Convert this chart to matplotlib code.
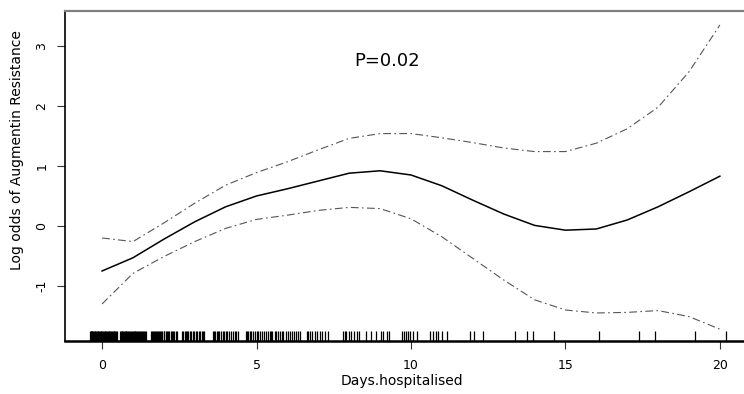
import numpy as np
import matplotlib
matplotlib.use("Agg")
import matplotlib.pyplot as plt
import matplotlib.transforms as mtransforms

# GAM fit of log odds of Augmentin resistance vs days hospitalised
days = list(range(0, 21))
fit = [-0.75, -0.53, -0.22, 0.07, 0.32, 0.50, 0.62, 0.75, 0.88, 0.92, 0.85,
       0.67, 0.43, 0.20, 0.01, -0.07, -0.05, 0.10, 0.32, 0.57, 0.83]
upper = [-0.20, -0.26, 0.05, 0.38, 0.68, 0.89, 1.07, 1.27, 1.46, 1.54, 1.54,
         1.47, 1.39, 1.30, 1.24, 1.24, 1.38, 1.62, 1.98, 2.57, 3.35]
lower = [-1.30, -0.79, -0.51, -0.26, -0.04, 0.11, 0.18, 0.26, 0.31, 0.29, 0.12,
         -0.18, -0.54, -0.90, -1.23, -1.40, -1.45, -1.44, -1.41, -1.51, -1.72]

# rug of observed (jittered) days
rug = [-0.39, -0.37, -0.35, -0.33, -0.31, -0.29, -0.26, -0.24, -0.22, -0.19, -0.17,
       -0.14, -0.12, -0.09, -0.07, -0.04, -0.02, 0.01, 0.03, 0.06, 0.08, 0.11, 0.13,
       0.16, 0.18, 0.21, 0.24, 0.26, 0.29, 0.31, 0.34, 0.37, 0.39, 0.42, 0.45, 0.47,
       0.58, 0.60, 0.63, 0.65, 0.68, 0.71, 0.73, 0.76, 0.79, 0.82, 0.84, 0.87, 0.90,
       0.93, 0.96, 0.99, 1.02, 1.05, 1.08, 1.11, 1.14, 1.17, 1.20, 1.23, 1.26, 1.29,
       1.32, 1.35, 1.38, 1.41,
       1.59, 1.62, 1.65, 1.68, 1.71, 1.74, 1.77, 1.81, 1.84, 1.88, 1.91, 1.95, 1.99,
       2.02, 2.06, 2.10, 2.14, 2.18, 2.22, 2.26, 2.30, 2.34, 2.38, 2.42,
       2.60, 2.63, 2.67, 2.71, 2.75, 2.79, 2.84, 2.88, 2.93, 2.98, 3.03, 3.08, 3.13,
       3.18, 3.23, 3.27, 3.30,
       3.60, 3.63, 3.67, 3.71, 3.76, 3.80, 3.85, 3.90, 3.95, 4.01, 4.06, 4.12, 4.18,
       4.24, 4.30, 4.35, 4.40,
       4.66, 4.69, 4.73, 4.78, 4.83, 4.88, 4.94, 5.00, 5.06, 5.12, 5.18, 5.24, 5.30,
       5.36, 5.42, 5.47, 5.50,
       5.60, 5.64, 5.69, 5.75, 5.81, 5.87, 5.94, 6.01, 6.08, 6.15, 6.22, 6.29, 6.35, 6.40,
       6.62, 6.67, 6.73, 6.80, 6.88, 6.96, 7.04, 7.13, 7.22, 7.30,
       7.80, 7.85, 7.91, 7.98, 8.06, 8.15, 8.24, 8.33,
       8.55, 8.72, 8.88, 9.02, 9.08, 9.22, 9.30,
       9.70, 9.76, 9.83, 9.90, 9.97, 10.08, 10.18,
       10.62, 10.72, 10.80, 10.88, 11.02, 11.18, 11.90, 12.05, 12.33,
       13.37, 13.75, 13.95, 14.63, 16.08, 17.38, 17.90, 19.20, 20.20]

xticks = [0, 5, 10, 15, 20]
yticks = [-1, 0, 1, 2, 3]

plt.rcParams['font.family'] = ['DejaVu Sans']

fig = plt.figure(figsize=(7.44, 3.94), dpi=100)
ax = fig.add_axes([65 / 744, 1 - 341 / 394, (744 - 65) / 744, (341 - 11) / 394])

ax.plot(days, fit, color='black', lw=1.1)
ax.plot(days, upper, color='#555555', lw=0.8, linestyle=(0, (7, 3, 1.5, 3)))
ax.plot(days, lower, color='#555555', lw=0.8, linestyle=(0, (7, 3, 1.5, 3)))

trans = mtransforms.blended_transform_factory(ax.transData, ax.transAxes)
ax.vlines(rug, 0, 10 / 330, transform=trans, color='black', lw=0.9)

ax.text(9.22, 2.75, 'P=0.02', ha='center', va='center', fontsize=13)

ax.set_xlim(-1.2, 20.78)
ax.set_ylim(-1.917, 3.583)
ax.set_xticks(xticks)
ax.set_yticks(yticks)
ax.set_yticklabels([str(v) for v in yticks], rotation=90, va='center')
ax.tick_params(axis='both', labelsize=9, length=6, width=0.8, color='#333333')
ax.tick_params(axis='x', pad=7)
ax.tick_params(axis='y', pad=6)

ax.spines['right'].set_visible(False)
ax.spines['top'].set_color('#808080')
ax.spines['top'].set_linewidth(1.6)
ax.spines['bottom'].set_linewidth(1.8)
ax.spines['left'].set_linewidth(1.2)

fig.text(402 / 744, 1 - 381 / 394, 'Days.hospitalised', ha='center', va='center', fontsize=10)
fig.text(17 / 744, 1 - 150 / 394, 'Log odds of Augmentin Resistance', ha='center', va='center',
         rotation=90, fontsize=10)

fig.savefig('out.png', dpi=100)
